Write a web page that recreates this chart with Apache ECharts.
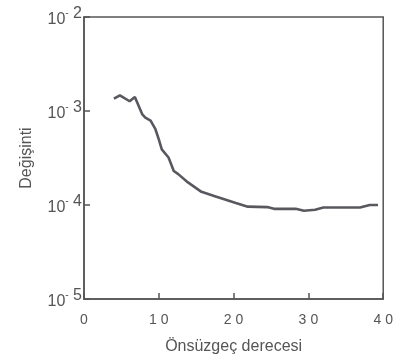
<!DOCTYPE html>
<html>
<head>
<meta charset="utf-8">
<script src="https://cdn.jsdelivr.net/npm/echarts@6/dist/echarts.min.js"></script>
<style>html,body{margin:0;padding:0;background:#fff;}#c{width:396px;height:360px;}</style>
</head>
<body>
<div id="c"></div>
<script>
const orderX = [4.0, 4.8, 6.1, 6.8, 7.8, 8.2, 8.9, 9.55, 10.0, 10.4, 11.3, 12.0, 12.6, 13.9, 15.7, 17.5, 20.3, 21.9, 24.5, 25.4, 28.3, 29.4, 30.9, 32.0, 36.9, 38.2, 39.3];
const variance = [1.35e-3, 1.47e-3, 1.27e-3, 1.41e-3, 9.2e-4, 8.5e-4, 7.9e-4, 6.4e-4, 5.0e-4, 3.9e-4, 3.2e-4, 2.3e-4, 2.13e-4, 1.74e-4, 1.38e-4, 1.24e-4, 1.05e-4, 9.6e-5, 9.5e-5, 9.1e-5, 9.1e-5, 8.7e-5, 8.9e-5, 9.4e-5, 9.4e-5, 1.0e-4, 1.0e-4];
const xTicks = [0, 10, 20, 30, 40];
const yExponents = [2, 3, 4, 5];
const xTitle = 'Önsüzgeç derecesi';
const yTitle = 'Değişinti';

const chart = echarts.init(document.getElementById('c'));
const grey = '#555';
const font = 'Liberation Sans';
chart.setOption({
  animation: false,
  backgroundColor: '#fff',
  grid: { left: 84, right: 9, top: 17, bottom: 60, show: true, borderColor: grey, borderWidth: 1.5 },
  xAxis: {
    type: 'value', min: 0, max: 40, interval: 10,
    axisLine: { lineStyle: { color: grey, width: 1.5 } },
    axisTick: { inside: true, length: 6, lineStyle: { color: grey, width: 1.5 } },
    splitLine: { show: false },
    axisLabel: { margin: 14,
      formatter: v => {
        if (!xTicks.includes(v)) return '';
        const s = String(v);
        return s.length === 1 ? '{d|' + s + '}' : '{d|' + s[0] + '}{e|' + s.slice(1) + '}';
      },
      rich: {
        d: { color: grey, fontFamily: font, fontSize: 14 },
        e: { color: grey, fontFamily: font, fontSize: 14, padding: [0, 0, 0, 4] }
      }
    },
    name: xTitle, nameLocation: 'middle', nameGap: 40,
    nameTextStyle: { color: grey, fontFamily: font, fontSize: 16 }
  },
  yAxis: {
    type: 'log', logBase: 10, min: 1e-5, max: 1e-2,
    axisLine: { lineStyle: { color: grey, width: 1.5 } },
    axisTick: { inside: true, length: 6, lineStyle: { color: grey, width: 1.5 } },
    minorTick: { show: false },
    splitLine: { show: false },
    axisLabel: {
      margin: 2,
      formatter: v => {
        const e = -Math.round(Math.log10(v));
        return yExponents.includes(e) ? '{a|10}{b|-}{c| ' + e + '}' : '';
      },
      rich: {
        a: { color: grey, fontFamily: font, fontSize: 16, padding: [6, 0, 0, 0] },
        b: { color: grey, fontFamily: font, fontSize: 10, padding: [0, 0, 8, 0] },
        c: { color: grey, fontFamily: font, fontSize: 16, padding: [0, 0, 6, 0] }
      }
    },
    name: yTitle, nameLocation: 'middle', nameGap: 49, nameRotate: 90,
    nameTextStyle: { color: grey, fontFamily: font, fontSize: 16 }
  },
  series: [{
    type: 'line',
    data: orderX.map((x, i) => [x, variance[i]]),
    showSymbol: false,
    lineStyle: { color: '#58585f', width: 2.6 }
  }]
});
</script>
</body>
</html>
